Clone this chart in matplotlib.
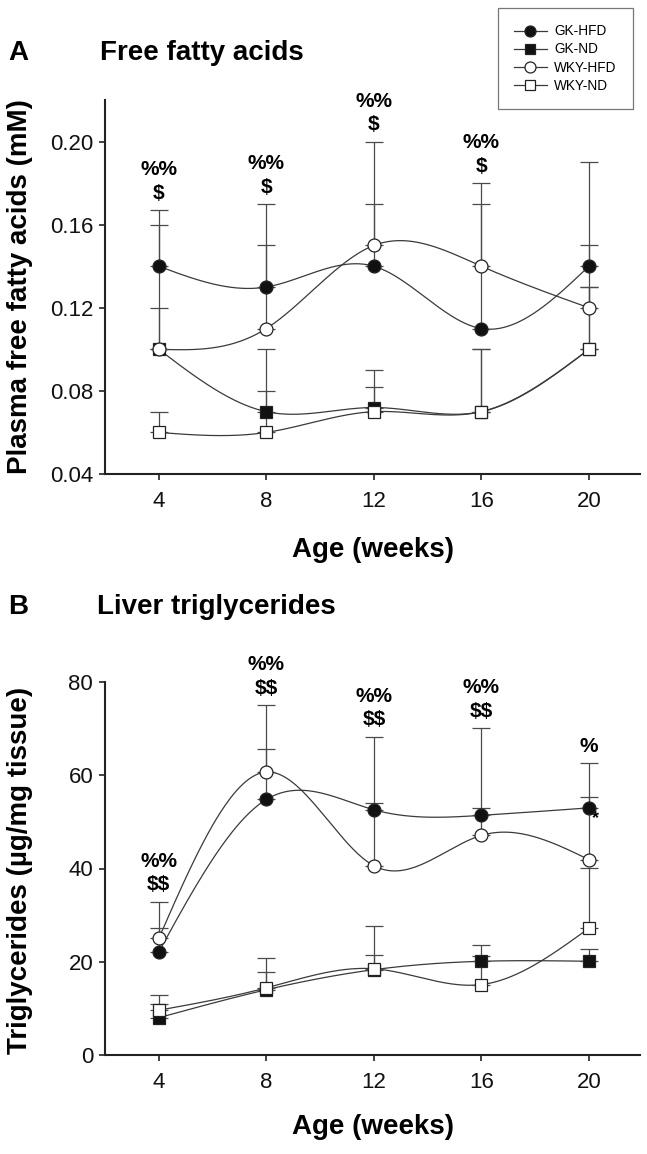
import numpy as np
import matplotlib
matplotlib.use("Agg")
import matplotlib.pyplot as plt
from matplotlib.lines import Line2D

plt.rcParams['font.family'] = ['Liberation Sans', 'DejaVu Sans']
plt.rcParams['text.parse_math'] = False

# ---------------- data ----------------
weeks = [4, 8, 12, 16, 20]
groups = ['GK-HFD', 'GK-ND', 'WKY-HFD', 'WKY-ND']

# Panel A: plasma free fatty acids (mM)
ffa_gk_hfd = [0.14, 0.13, 0.14, 0.11, 0.14]
ffa_gk_hfd_err = [0.027, 0.02, 0.03, 0.06, 0.05]
ffa_gk_nd = [0.10, 0.07, 0.072, 0.07, 0.10]
ffa_gk_nd_err = [0.02, 0.03, 0.01, 0.03, 0.03]
ffa_wky_hfd = [0.10, 0.11, 0.15, 0.14, 0.12]
ffa_wky_hfd_err = [0.06, 0.06, 0.05, 0.04, 0.03]
ffa_wky_nd = [0.06, 0.06, 0.07, 0.07, 0.10]
ffa_wky_nd_err = [0.01, 0.02, 0.02, 0.03, 0.03]
ffa_sig_top = ['%%', '%%', '%%', '%%', '']
ffa_sig_bot = ['$', '$', '$', '$', '']
ffa_yticks = [0.04, 0.08, 0.12, 0.16, 0.20]
ffa_yticklabels = ['0.04', '0.08', '0.12', '0.16', '0.20']

# Panel B: liver triglycerides (ug/mg tissue)
tg_gk_hfd = [22.1, 54.8, 52.6, 51.4, 53.0]
tg_gk_hfd_err = [5.2, 10.9, 15.7, 18.8, 9.6]
tg_gk_nd = [8.0, 14.0, 18.3, 20.1, 20.1]
tg_gk_nd_err = [3.0, 3.7, 3.2, 3.4, 2.6]
tg_wky_hfd = [25.0, 60.7, 40.6, 47.1, 41.9]
tg_wky_hfd_err = [7.9, 14.4, 13.4, 5.8, 13.4]
tg_wky_nd = [9.6, 14.4, 18.5, 15.1, 27.2]
tg_wky_nd_err = [3.2, 6.5, 9.1, 6.1, 13.0]
tg_sig_top = ['%%', '%%', '%%', '%%', '']
tg_sig_bot = ['$$', '$$', '$$', '$$', '%']
tg_star_week = 20
tg_yticks = [0, 20, 40, 60, 80]

# ---------------- helpers ----------------
def natural_spline(x, y, num=400):
    x = np.asarray(x, float)
    y = np.asarray(y, float)
    n = len(x)
    h = np.diff(x)
    A = np.zeros((n, n))
    r = np.zeros(n)
    A[0, 0] = 1
    A[-1, -1] = 1
    for i in range(1, n - 1):
        A[i, i - 1] = h[i - 1]
        A[i, i] = 2 * (h[i - 1] + h[i])
        A[i, i + 1] = h[i]
        r[i] = 6 * ((y[i + 1] - y[i]) / h[i] - (y[i] - y[i - 1]) / h[i - 1])
    M = np.linalg.solve(A, r)
    xs = np.linspace(x[0], x[-1], num)
    idx = np.clip(np.searchsorted(x, xs) - 1, 0, n - 2)
    xi, xi1, hi = x[idx], x[idx + 1], h[idx]
    ys = (M[idx] * (xi1 - xs) ** 3 / (6 * hi)
          + M[idx + 1] * (xs - xi) ** 3 / (6 * hi)
          + (y[idx] / hi - M[idx] * hi / 6) * (xi1 - xs)
          + (y[idx + 1] / hi - M[idx + 1] * hi / 6) * (xs - xi))
    return xs, ys

LINE_C = '#3a3a3a'
ERR_C = '#4a4a4a'
styles = {
    'GK-HFD': dict(marker='o', mfc='#111111', ms=9.3),
    'GK-ND': dict(marker='s', mfc='#111111', ms=8),
    'WKY-HFD': dict(marker='o', mfc='white', ms=9.3),
    'WKY-ND': dict(marker='s', mfc='white', ms=8),
}

W, H = 647, 1154
fig = plt.figure(figsize=(W / 100, H / 100), dpi=100)

def px_axes(left, top, right, bottom):
    return fig.add_axes([left / W, 1 - bottom / H, (right - left) / W, (bottom - top) / H])

def draw_panel(ax, series, errs, sig_top, sig_bot, ylim, yticks, yticklabels):
    for g, vals, err in zip(groups, series, errs):
        xs, ys = natural_spline(weeks, vals)
        ax.plot(xs, ys, color=LINE_C, lw=0.9, zorder=2)
    for k, (g, vals, err) in enumerate(zip(groups, series, errs)):
        ax.errorbar(weeks, vals, yerr=[np.zeros(len(err)), err], fmt='none',
                    ecolor=ERR_C, elinewidth=0.9, capsize=6.5, capthick=0.9, zorder=3)
    for k, (g, vals) in enumerate(zip(groups, series)):
        st = styles[g]
        ax.plot(weeks, vals, linestyle='none', marker=st['marker'], ms=st['ms'],
                mfc=st['mfc'], mec='#222222', mew=0.9, zorder=4 + k)
    tops = np.max(np.array(series) + np.array(errs), axis=0)
    for w, t, s1, s2 in zip(weeks, tops, sig_top, sig_bot):
        if s2:
            ax.annotate(s2, (w, t), xytext=(0, 12), textcoords='offset points',
                        ha='center', va='center', fontsize=15, fontweight='bold',
                        annotation_clip=False)
        if s1:
            ax.annotate(s1, (w, t), xytext=(0, 29), textcoords='offset points',
                        ha='center', va='center', fontsize=15, fontweight='bold',
                        annotation_clip=False)
    ax.set_xlim(2.0, 21.9)
    ax.set_ylim(*ylim)
    ax.set_xticks(weeks)
    ax.set_xticklabels([str(w) for w in weeks])
    ax.set_yticks(yticks)
    ax.set_yticklabels(yticklabels)
    for sp in ['top', 'right']:
        ax.spines[sp].set_visible(False)
    for sp in ['left', 'bottom']:
        ax.spines[sp].set_linewidth(1.5)
        ax.spines[sp].set_color('#222222')
    ax.tick_params(axis='both', direction='out', length=4, width=1.2, color='#222222',
                   labelsize=16, labelcolor='#111111')
    ax.tick_params(axis='x', pad=8)
    ax.tick_params(axis='y', pad=4.5)

# Panel A
axA = px_axes(105, 100, 640, 474)
draw_panel(axA,
           [ffa_gk_hfd, ffa_gk_nd, ffa_wky_hfd, ffa_wky_nd],
           [ffa_gk_hfd_err, ffa_gk_nd_err, ffa_wky_hfd_err, ffa_wky_nd_err],
           ffa_sig_top, ffa_sig_bot, (0.04, 0.22), ffa_yticks, ffa_yticklabels)

# Panel B
axB = px_axes(105, 682, 640, 1055)
draw_panel(axB,
           [tg_gk_hfd, tg_gk_nd, tg_wky_hfd, tg_wky_nd],
           [tg_gk_hfd_err, tg_gk_nd_err, tg_wky_hfd_err, tg_wky_nd_err],
           tg_sig_top, tg_sig_bot, (0, 80), tg_yticks, [str(v) for v in tg_yticks])
star_y = tg_gk_hfd[weeks.index(tg_star_week)]
axB.annotate('*', (tg_star_week, star_y), xytext=(5, -8), textcoords='offset points',
             ha='center', va='center', fontsize=13, fontweight='bold')

# Titles and axis labels
def ftext(x, y, s, **kw):
    fig.text(x / W, 1 - y / H, s, **kw)

ftext(8, 53, 'A', fontsize=20, fontweight='bold', va='center', ha='left')
ftext(100, 53, 'Free fatty acids', fontsize=20, fontweight='bold', va='center', ha='left')
ftext(8, 607, 'B', fontsize=20, fontweight='bold', va='center', ha='left')
ftext(97, 607, 'Liver triglycerides', fontsize=20, fontweight='bold', va='center', ha='left')
ftext(20, 287, 'Plasma free fatty acids (mM)', fontsize=20, fontweight='bold',
      rotation=90, va='center', ha='center')
ftext(20, 870, 'Triglycerides (\u00b5g/mg tissue)', fontsize=20, fontweight='bold',
      rotation=90, va='center', ha='center')
ftext(373, 550, 'Age (weeks)', fontsize=20, fontweight='bold', va='center', ha='center')
ftext(373, 1127, 'Age (weeks)', fontsize=20, fontweight='bold', va='center', ha='center')

# Legend
handles = [Line2D([0], [0], color=LINE_C, lw=0.9, marker=styles[g]['marker'],
                  ms=styles[g]['ms'] * 0.85, mfc=styles[g]['mfc'], mec='#222222', mew=0.9)
           for g in groups]
leg = fig.legend(handles, groups, loc='upper right',
                 bbox_to_anchor=(633 / W, 1 - 8 / H), bbox_transform=fig.transFigure,
                 fontsize=9.8, frameon=True, fancybox=False, borderpad=1.2,
                 labelspacing=0.3, handlelength=2.4, handletextpad=0.55,
                 borderaxespad=0)
leg.get_frame().set_edgecolor('#555555')
leg.get_frame().set_linewidth(0.9)

fig.savefig('out.png', dpi=100)
